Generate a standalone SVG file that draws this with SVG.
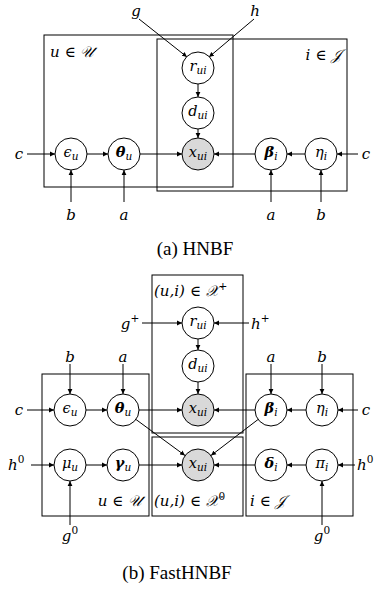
<svg xmlns="http://www.w3.org/2000/svg" width="383" height="593" viewBox="0 0 383 593">
<style>
.plate{fill:none;stroke:#000;stroke-width:1}
.node circle{fill:#fff;stroke:#000;stroke-width:1}
.node.obs circle{fill:#d9d9d9}
.m{font-family:"DejaVu Serif","Liberation Serif",serif;font-style:italic;font-size:15px;fill:#000}
.nd{font-family:"DejaVu Serif","Liberation Serif",serif;font-style:italic;font-size:14.5px;fill:#000;text-anchor:middle}
.b{font-weight:bold}
.s{font-size:10.5px}
.sup{font-size:10.5px;font-style:normal}
.cap{font-family:"Liberation Serif",serif;font-size:19px;fill:#000;text-anchor:middle}
.e{stroke:#000;stroke-width:1;fill:none;marker-end:url(#ah)}
</style>
<defs>
<marker id="ah" markerUnits="userSpaceOnUse" markerWidth="6" markerHeight="6" refX="5" refY="3" orient="auto">
<path d="M0,0.6 L5,3 L0,5.4 Z" fill="#000"/>
</marker>
</defs>

<!-- (a) HNBF -->
<g id="a-plates">
<rect class="plate" x="44" y="35" width="189" height="152"/>
<rect class="plate" x="157" y="39" width="190" height="152"/>
<text class="m" x="50" y="57">u ∈ 𝒰</text>
<text class="m" x="341" y="60" text-anchor="end">i ∈ 𝒥</text>
</g>
<g id="a-edges">
<line class="e" x1="139" y1="19" x2="187" y2="57"/>
<line class="e" x1="254" y1="19" x2="209" y2="57"/>
<line class="e" x1="198" y1="84" x2="198" y2="97"/>
<line class="e" x1="198" y1="129" x2="198" y2="138"/>
<line class="e" x1="27" y1="154" x2="55" y2="154"/>
<line class="e" x1="87" y1="154" x2="108" y2="154"/>
<line class="e" x1="140" y1="154" x2="182" y2="154"/>
<line class="e" x1="255" y1="154" x2="214" y2="154"/>
<line class="e" x1="305" y1="154" x2="287" y2="154"/>
<line class="e" x1="358" y1="154" x2="337" y2="154"/>
<line class="e" x1="71" y1="202" x2="71" y2="170"/>
<line class="e" x1="124" y1="202" x2="124" y2="170"/>
<line class="e" x1="271" y1="202" x2="271" y2="170"/>
<line class="e" x1="321" y1="202" x2="321" y2="170"/>
</g>
<g id="a-labels">
<text class="m" x="136" y="16" text-anchor="middle">g</text>
<text class="m" x="255" y="16" text-anchor="middle">h</text>
<text class="m" x="19" y="159" text-anchor="middle">c</text>
<text class="m" x="366" y="159" text-anchor="middle">c</text>
<text class="m" x="71" y="220" text-anchor="middle">b</text>
<text class="m" x="124" y="220" text-anchor="middle">a</text>
<text class="m" x="271" y="220" text-anchor="middle">a</text>
<text class="m" x="321" y="220" text-anchor="middle">b</text>
</g>
<g id="a-r" class="node"><circle cx="198" cy="68" r="16"/><text class="nd" x="198" y="71">r<tspan class="s" dy="3">ui</tspan></text></g>
<g id="a-d" class="node"><circle cx="198" cy="113" r="16"/><text class="nd" x="198" y="116">d<tspan class="s" dy="3">ui</tspan></text></g>
<g id="a-x" class="node obs"><circle cx="198" cy="154" r="16"/><text class="nd" x="198" y="157">x<tspan class="s" dy="3">ui</tspan></text></g>
<g id="a-eps" class="node"><circle cx="71" cy="154" r="16"/><text class="nd" x="71" y="157">ϵ<tspan class="s" dy="3">u</tspan></text></g>
<g id="a-theta" class="node"><circle cx="124" cy="154" r="16"/><text class="nd" x="124" y="157"><tspan class="b">θ</tspan><tspan class="s" dy="3">u</tspan></text></g>
<g id="a-beta" class="node"><circle cx="271" cy="154" r="16"/><text class="nd" x="271" y="157"><tspan class="b">β</tspan><tspan class="s" dy="3">i</tspan></text></g>
<g id="a-eta" class="node"><circle cx="321" cy="154" r="16"/><text class="nd" x="321" y="157">η<tspan class="s" dy="3">i</tspan></text></g>
<text class="cap" x="195" y="255">(a)  HNBF</text>

<!-- (b) FastHNBF -->
<g id="b-plates">
<rect class="plate" x="42" y="374" width="107" height="142"/>
<rect class="plate" x="152" y="275" width="91" height="158"/>
<rect class="plate" x="152" y="437" width="91" height="79"/>
<rect class="plate" x="246" y="374" width="107" height="142"/>
<text class="m" x="154" y="296">(u,i) ∈ 𝒳<tspan class="sup" dy="-6">+</tspan></text>
<text class="m" x="142" y="506" text-anchor="end">u ∈ 𝒰</text>
<text class="m" x="154" y="506">(u,i) ∈ 𝒳<tspan class="sup" dy="-6">0</tspan></text>
<text class="m" x="250" y="506">i ∈ 𝒥</text>
</g>
<g id="b-edges">
<line class="e" x1="142" y1="323" x2="182" y2="323"/>
<line class="e" x1="249" y1="323" x2="214" y2="323"/>
<line class="e" x1="198" y1="339" x2="198" y2="350"/>
<line class="e" x1="198" y1="382" x2="198" y2="394"/>
<line class="e" x1="70" y1="364" x2="70" y2="394"/>
<line class="e" x1="123" y1="364" x2="123" y2="394"/>
<line class="e" x1="271" y1="364" x2="271" y2="394"/>
<line class="e" x1="322" y1="364" x2="322" y2="394"/>
<line class="e" x1="27" y1="410" x2="54" y2="410"/>
<line class="e" x1="86" y1="410" x2="107" y2="410"/>
<line class="e" x1="139" y1="410" x2="182" y2="410"/>
<line class="e" x1="255" y1="410" x2="214" y2="410"/>
<line class="e" x1="306" y1="410" x2="287" y2="410"/>
<line class="e" x1="358" y1="410" x2="338" y2="410"/>
<line class="e" x1="31" y1="465" x2="54" y2="465"/>
<line class="e" x1="86" y1="465" x2="107" y2="465"/>
<line class="e" x1="139" y1="465" x2="182" y2="465"/>
<line class="e" x1="255" y1="465" x2="214" y2="465"/>
<line class="e" x1="306" y1="465" x2="287" y2="465"/>
<line class="e" x1="355" y1="465" x2="338" y2="465"/>
<line class="e" x1="136" y1="419.5" x2="185" y2="455.5"/>
<line class="e" x1="258" y1="419.5" x2="211" y2="455.5"/>
<line class="e" x1="70" y1="525" x2="70" y2="481"/>
<line class="e" x1="322" y1="525" x2="322" y2="481"/>
</g>
<g id="b-labels">
<text class="m" x="130" y="329" text-anchor="middle">g<tspan class="sup" dy="-7">+</tspan></text>
<text class="m" x="251" y="329">h<tspan class="sup" dy="-7">+</tspan></text>
<text class="m" x="70" y="362" text-anchor="middle">b</text>
<text class="m" x="123" y="362" text-anchor="middle">a</text>
<text class="m" x="271" y="362" text-anchor="middle">a</text>
<text class="m" x="322" y="362" text-anchor="middle">b</text>
<text class="m" x="19" y="415" text-anchor="middle">c</text>
<text class="m" x="366" y="415" text-anchor="middle">c</text>
<text class="m" x="8" y="470">h<tspan class="sup" dy="-7">0</tspan></text>
<text class="m" x="357" y="470">h<tspan class="sup" dy="-7">0</tspan></text>
<text class="m" x="70" y="541" text-anchor="middle">g<tspan class="sup" dy="-7">0</tspan></text>
<text class="m" x="322" y="541" text-anchor="middle">g<tspan class="sup" dy="-7">0</tspan></text>
</g>
<g id="b-r" class="node"><circle cx="198" cy="323" r="16"/><text class="nd" x="198" y="326">r<tspan class="s" dy="3">ui</tspan></text></g>
<g id="b-d" class="node"><circle cx="198" cy="366" r="16"/><text class="nd" x="198" y="369">d<tspan class="s" dy="3">ui</tspan></text></g>
<g id="b-x1" class="node obs"><circle cx="198" cy="410" r="16"/><text class="nd" x="198" y="413">x<tspan class="s" dy="3">ui</tspan></text></g>
<g id="b-x0" class="node obs"><circle cx="198" cy="465" r="16"/><text class="nd" x="198" y="468">x<tspan class="s" dy="3">ui</tspan></text></g>
<g id="b-eps" class="node"><circle cx="70" cy="410" r="16"/><text class="nd" x="70" y="413">ϵ<tspan class="s" dy="3">u</tspan></text></g>
<g id="b-theta" class="node"><circle cx="123" cy="410" r="16"/><text class="nd" x="123" y="413"><tspan class="b">θ</tspan><tspan class="s" dy="3">u</tspan></text></g>
<g id="b-beta" class="node"><circle cx="271" cy="410" r="16"/><text class="nd" x="271" y="413"><tspan class="b">β</tspan><tspan class="s" dy="3">i</tspan></text></g>
<g id="b-eta" class="node"><circle cx="322" cy="410" r="16"/><text class="nd" x="322" y="413">η<tspan class="s" dy="3">i</tspan></text></g>
<g id="b-mu" class="node"><circle cx="70" cy="465" r="16"/><text class="nd" x="70" y="468">μ<tspan class="s" dy="3">u</tspan></text></g>
<g id="b-gamma" class="node"><circle cx="123" cy="465" r="16"/><text class="nd" x="123" y="468"><tspan class="b">γ</tspan><tspan class="s" dy="3">u</tspan></text></g>
<g id="b-delta" class="node"><circle cx="271" cy="465" r="16"/><text class="nd" x="271" y="468"><tspan class="b">δ</tspan><tspan class="s" dy="3">i</tspan></text></g>
<g id="b-pi" class="node"><circle cx="322" cy="465" r="16"/><text class="nd" x="322" y="468">π<tspan class="s" dy="3">i</tspan></text></g>
<text class="cap" x="177" y="579">(b)  FastHNBF</text>
</svg>
